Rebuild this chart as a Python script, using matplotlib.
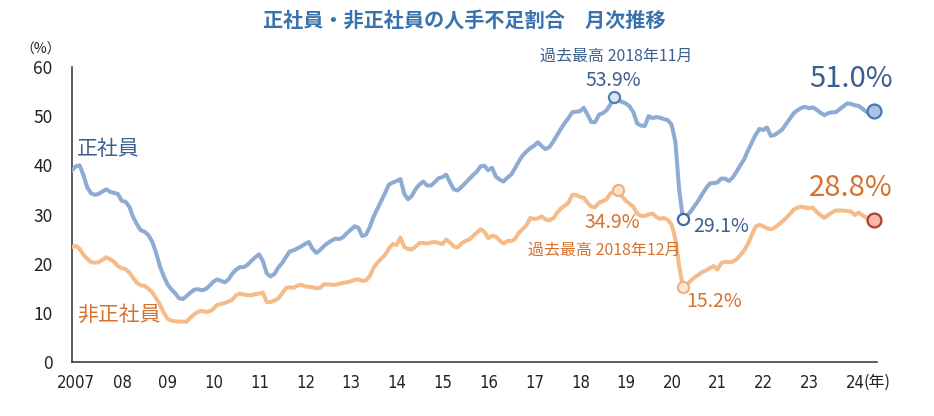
import numpy as np
import matplotlib.pyplot as plt

plt.rcParams['font.family'] = ['Noto Sans CJK JP', 'DejaVu Sans']

# monthly share of firms short of staff (%), Jan 2007 - Jul 2024
seishain = [
    39.0, 39.8, 40.0, 38.0, 35.5, 34.3, 34.0, 34.2, 34.7, 35.1, 34.6, 34.4,
    34.2, 32.8, 32.6, 31.6, 29.5, 28.0, 26.8, 26.5, 25.8, 24.5, 22.3, 19.5,
    17.5, 15.8, 14.8, 14.0, 13.0, 12.8, 13.4, 14.1, 14.7, 14.8, 14.6, 14.8,
    15.5, 16.3, 16.8, 16.5, 16.2, 16.8, 18.0, 18.8, 19.3, 19.3, 19.8, 20.6,
    21.3, 21.9, 20.5, 18.0, 17.4, 17.9, 19.2, 20.1, 21.3, 22.5, 22.7, 23.1,
    23.5, 24.0, 24.4, 23.0, 22.2, 22.8, 23.6, 24.2, 24.7, 25.1, 25.0, 25.4,
    26.2, 26.9, 27.6, 27.3, 25.6, 25.9, 27.5, 29.6, 31.2, 32.8, 34.4, 36.1,
    36.5, 36.8, 37.2, 34.2, 33.1, 33.8, 35.2, 36.1, 36.7, 35.9, 35.9, 36.6,
    37.4, 37.6, 38.1, 36.5, 35.1, 34.9, 35.6, 36.4, 37.2, 38.0, 38.7, 39.8,
    39.9, 39.0, 39.5, 37.7, 37.1, 36.7, 37.5, 38.1, 39.4, 40.8, 42.0, 42.8,
    43.5, 44.0, 44.7, 43.9, 43.3, 43.7, 44.8, 46.1, 47.4, 48.6, 49.6, 50.8,
    50.9, 51.0, 51.7, 50.3, 48.8, 48.8, 50.3, 50.6, 51.2, 52.4, 53.9, 53.3,
    52.9, 52.6, 52.0, 50.8, 48.5, 48.1, 48.0, 50.0, 49.6, 49.8, 49.7, 49.4,
    49.2, 48.3, 44.8, 35.0, 29.1, 29.7, 30.6, 31.7, 32.8, 34.1, 35.3, 36.3,
    36.4, 36.5, 37.3, 37.3, 36.8, 37.5, 38.7, 40.0, 41.2, 43.0, 44.6, 46.2,
    47.4, 47.2, 47.7, 46.0, 46.2, 46.7, 47.3, 48.4, 49.5, 50.6, 51.2, 51.7,
    51.9, 51.6, 51.8, 51.3, 50.7, 50.2, 50.6, 50.8, 50.8, 51.4, 52.0, 52.6,
    52.5, 52.2, 52.1, 51.5, 50.9, 50.5, 51.0,
]
hiseishain = [
    23.4, 23.6, 23.0, 21.8, 21.0, 20.3, 20.2, 20.3, 20.8, 21.3, 20.9, 20.4,
    19.5, 19.1, 18.9, 18.2, 17.1, 16.1, 15.6, 15.5, 14.9, 14.2, 13.0, 11.7,
    10.1, 8.8, 8.4, 8.3, 8.2, 8.2, 8.2, 9.0, 9.7, 10.2, 10.4, 10.2,
    10.3, 10.8, 11.6, 11.8, 12.0, 12.3, 12.7, 13.6, 13.9, 13.7, 13.6, 13.6,
    13.8, 13.9, 14.1, 12.2, 12.2, 12.5, 12.9, 13.9, 15.0, 15.2, 15.1, 15.5,
    15.7, 15.4, 15.3, 15.2, 15.0, 15.1, 15.8, 15.8, 15.7, 15.7, 15.9, 16.1,
    16.2, 16.4, 16.7, 16.8, 16.5, 16.6, 17.5, 19.2, 20.2, 21.0, 21.8, 23.1,
    24.0, 23.8, 25.3, 23.4, 23.0, 22.9, 23.5, 24.2, 24.2, 24.1, 24.3, 24.4,
    24.2, 24.0, 24.9, 24.3, 23.5, 23.3, 24.1, 24.6, 24.9, 25.6, 26.3, 27.0,
    26.5, 25.2, 25.7, 25.5, 24.7, 24.1, 24.6, 24.6, 25.0, 26.3, 27.0, 27.8,
    29.3, 29.1, 29.2, 29.6, 29.0, 28.8, 29.2, 30.3, 31.2, 31.8, 32.4, 34.0,
    34.0, 33.6, 33.4, 32.4, 31.6, 31.5, 32.4, 32.7, 33.1, 34.3, 34.6, 34.9,
    33.7, 32.8, 32.2, 31.6, 30.2, 29.7, 29.7, 30.0, 30.2, 29.5, 29.1, 29.3,
    28.9, 28.0, 25.0, 19.5, 15.2, 15.8, 16.5, 17.2, 17.7, 18.3, 18.6, 19.1,
    19.5, 18.8, 20.1, 20.4, 20.3, 20.4, 20.9, 21.7, 22.7, 24.0, 25.8, 27.5,
    27.9, 27.6, 27.2, 27.0, 27.3, 27.9, 28.6, 29.3, 30.1, 31.0, 31.4, 31.6,
    31.4, 31.3, 31.4, 30.5, 29.9, 29.3, 29.9, 30.4, 30.8, 30.8, 30.8, 30.7,
    30.6, 29.9, 30.4, 29.8, 29.4, 28.6, 28.8,
]
year_labels = ['2007', '08', '09', '10', '11', '12', '13', '14', '15',
               '16', '17', '18', '19', '20', '21', '22', '23', '24']

blue_line = '#8eabd3'
orange_line = '#f5bb88'
blue_txt = '#3b5f8f'
orange_txt = '#d5722f'

months = np.arange(len(seishain))
s = np.array(seishain)
h = np.array(hiseishain)

fig = plt.figure(figsize=(9.34, 4.16), dpi=100)
ax = fig.add_axes([72 / 934, 1 - 362 / 416, 805 / 934, 295 / 416])

ax.plot(months, s, color=blue_line, lw=2.9, solid_joinstyle='round', zorder=3)
ax.plot(months, h, color=orange_line, lw=2.9, solid_joinstyle='round', zorder=3)

ax.set_xlim(0, 210.8)
ax.set_ylim(0, 60)
ax.set_yticks(range(0, 61, 10))
ax.set_xticks([12 * i + 1.1 for i in range(len(year_labels))])
ax.set_xticklabels(year_labels, family='DejaVu Sans', fontstretch='condensed',
                   fontsize=12, color='#222222')
ax.tick_params(axis='x', length=0, pad=9)
ax.tick_params(axis='y', length=0, pad=14, labelsize=12.5, labelcolor='#222222')
for sp in ['top', 'right']:
    ax.spines[sp].set_visible(False)
for sp in ['left', 'bottom']:
    ax.spines[sp].set_color('#404040')
    ax.spines[sp].set_linewidth(1.2)

ax.annotate('(年)', xy=(205.1, 0), xycoords=ax.get_xaxis_transform(),
            xytext=(15.5, -14.5), textcoords='offset points', ha='center',
            va='center', fontsize=11.5, color='#222222')

# key points
pk_s = int(np.argmax(s))
pk_h = int(np.argmax(h))
lo_s = int(np.argmin(s[150:170])) + 150
lo_h = int(np.argmin(h[150:170])) + 150
last = len(s) - 1

mk = dict(ls='none', marker='o', clip_on=False, zorder=5)
ax.plot(pk_s, s[pk_s], ms=8, mfc='#dde8f6', mec='#4f80b8', mew=1.6, **mk)
ax.plot(lo_s, s[lo_s], ms=8, mfc='white', mec='#3d6aa0', mew=1.6, **mk)
ax.plot(pk_h, h[pk_h], ms=8, mfc='#fde3cf', mec='#f1b07e', mew=1.6, **mk)
ax.plot(lo_h, h[lo_h], ms=8, mfc='#fdeadb', mec='#f1b07e', mew=1.6, **mk)
ax.plot(last, s[last], ms=10, mfc='#a8c4ea', mec='#4a78b3', mew=1.6, **mk)
ax.plot(last, h[last], ms=10, mfc='#f6b8a4', mec='#ac3f36', mew=1.6, **mk)

def note(txt, x, y, dx, dy, color, size, ha='center'):
    ax.annotate(txt, xy=(x, y), xytext=(dx, dy), textcoords='offset points',
                ha=ha, va='center', color=color, fontsize=size,
                annotation_clip=False)

note('正社員', 0, s[0], 26.3, 15.0, blue_txt, 15)
note('非正社員', 0, h[0], 33.5, -48.5, orange_txt, 15)
note('過去最高 2018年11月', pk_s, s[pk_s], 1.4, 29.2, blue_txt, 11.5)
note(f'{s[pk_s]:.1f}%', pk_s, s[pk_s], -0.7, 11.9, blue_txt, 14)
note(f'{s[lo_s]:.1f}%', lo_s, s[lo_s], 7.2, -5.4, blue_txt, 14, ha='left')
note(f'{h[pk_h]:.1f}%', pk_h, h[pk_h], -4.3, -23, orange_txt, 14)
note('過去最高 2018年12月', pk_h, h[pk_h], -9.7, -43.2, orange_txt, 11.5)
note(f'{h[lo_h]:.1f}%', lo_h, h[lo_h], 22.3, -10.4, orange_txt, 14)
note(f'{s[last]:.1f}%', last, s[last], -16.6, 23, blue_txt, 21)
note(f'{h[last]:.1f}%', last, h[last], -16.6, 23.4, orange_txt, 21)

fig.text(0.497, 1 - 20 / 416, '正社員・非正社員の人手不足割合　月次推移',
         ha='center', va='center', fontsize=14.5, fontweight='bold',
         color='#3a72ad')
fig.text(41 / 934, 1 - 50 / 416, '（%）', ha='center', va='center',
         fontsize=10, color='#222222')

fig.savefig('out.png', dpi=100)
